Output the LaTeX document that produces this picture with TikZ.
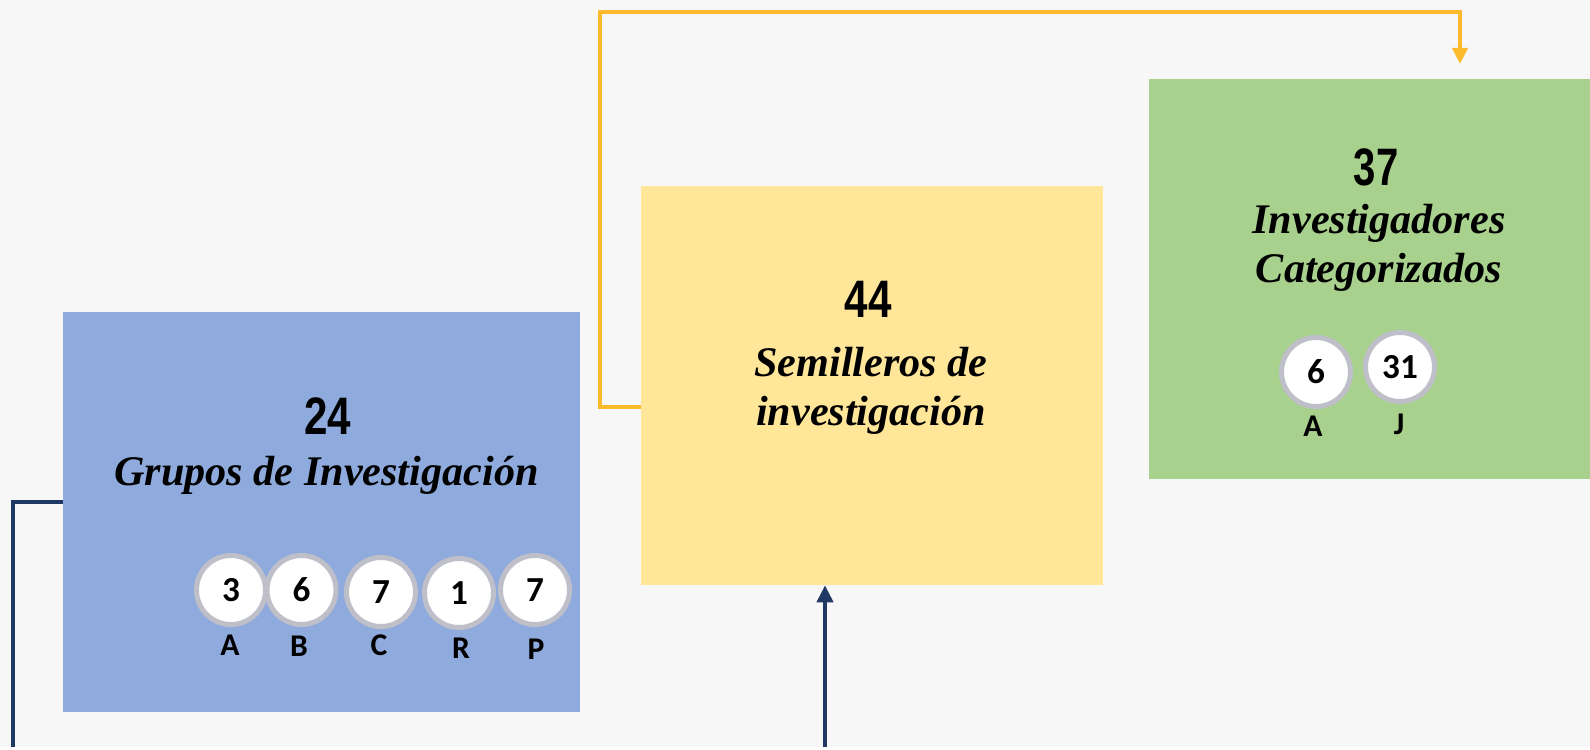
\documentclass[tikz,border=0pt]{standalone}
\usepackage{graphicx}
\usepackage{fontspec}
\setmainfont{Liberation Serif}
\newfontfamily\cifras{Liberation Sans}
\newfontfamily\calibri{Carlito}
\usetikzlibrary{arrows.meta}
\definecolor{fondo}{HTML}{F7F7F7}
\definecolor{azul}{HTML}{8FAADC}
\definecolor{amarillo}{HTML}{FFE699}
\definecolor{verde}{HTML}{A9D18E}
\definecolor{naranja}{HTML}{FBBA2B}
\definecolor{marino}{HTML}{203864}
\definecolor{aro}{HTML}{BFBFC9}

\begin{document}
\begin{tikzpicture}[
    caja/.style={minimum height=8cm, inner sep=0pt},
    bola/.style={draw=aro, line width=0.1cm, circle, fill=white, minimum size=1.38cm, inner sep=0pt, font=\calibri\bfseries\fontsize{20}{22}\selectfont},
    letra/.style={inner sep=0pt, font=\calibri\bfseries\fontsize{18}{20}\selectfont},
    titulo/.style={align=center, inner sep=0pt, font=\bfseries\itshape\fontsize{24}{28}\selectfont},
    cifra/.style={inner sep=0pt, font=\cifras\bfseries\fontsize{30}{31}\selectfont}
]
    \fill[fondo] (0,0) rectangle (31.8,14.94);
    % cajas
    \node(grupos)[caja, fill=azul, minimum width=10.34cm] at (6.43,4.70){};
    \node(semilleros)[caja, fill=amarillo, minimum width=9.24cm, minimum height=7.98cm] at (17.44,7.23){};
    \node(investigadores)[caja, fill=verde, minimum width=8.82cm] at (27.39,9.36){};
    % grupos
    \node(n24)[cifra] at (6.55,6.62){\scalebox{0.8}[1]{24}};
    \node(t24)[titulo] at (6.53,5.43){Grupos de Investigación};
    \node(ga)[bola] at (4.62,3.14){3};
    \node(gb)[bola] at (6.03,3.14){6};
    \node(gc)[bola] at (7.62,3.10){7};
    \node(gr)[bola] at (9.18,3.08){1};
    \node(gp)[bola] at (10.70,3.14){7};
    \node(la)[letra] at (4.60,2.04){A};
    \node(lb)[letra] at (5.98,2.02){B};
    \node(lc)[letra] at (7.58,2.04){C};
    \node(lr)[letra] at (9.22,1.98){R};
    \node(lp)[letra] at (10.72,1.96){P};
    % semilleros
    \node(n44)[cifra] at (17.36,8.96){\scalebox{0.8}[1]{44}};
    \node(t44)[titulo] at (17.42,7.12){Semilleros de\\investigación};
    % investigadores
    \node(n37)[cifra] at (27.52,11.60){\scalebox{0.76}[1]{37}};
    \node(t37)[titulo] at (27.58,9.98){Investigadores\\Categorizados};
    \node(ia)[bola] at (26.32,7.50){6};
    \node(ij)[bola] at (28.00,7.60){31};
    \node(lia)[letra] at (26.26,6.42){A};
    \node(lij)[letra] at (27.98,6.46){J};
    % conectores
    \coordinate (esq) at (0.26,0);
    \coordinate (codo) at (12.0,14.70);
    \coordinate (punta) at (29.2,13.66);
    \coordinate (base) at (16.5,0);
    \draw [marino, line width=2.3pt]([yshift=0.2cm]grupos.west) -| (esq);
    \draw [naranja, line width=2.1pt, -{Triangle[length=0.32cm, width=0.3cm]}]([yshift=-0.43cm]semilleros.west) -| (codo) -| (punta);
    \draw [marino, line width=2.3pt, -{Triangle[length=0.34cm, width=0.32cm]}](base) -- (base |- semilleros.south);
\end{tikzpicture}
\end{document}
